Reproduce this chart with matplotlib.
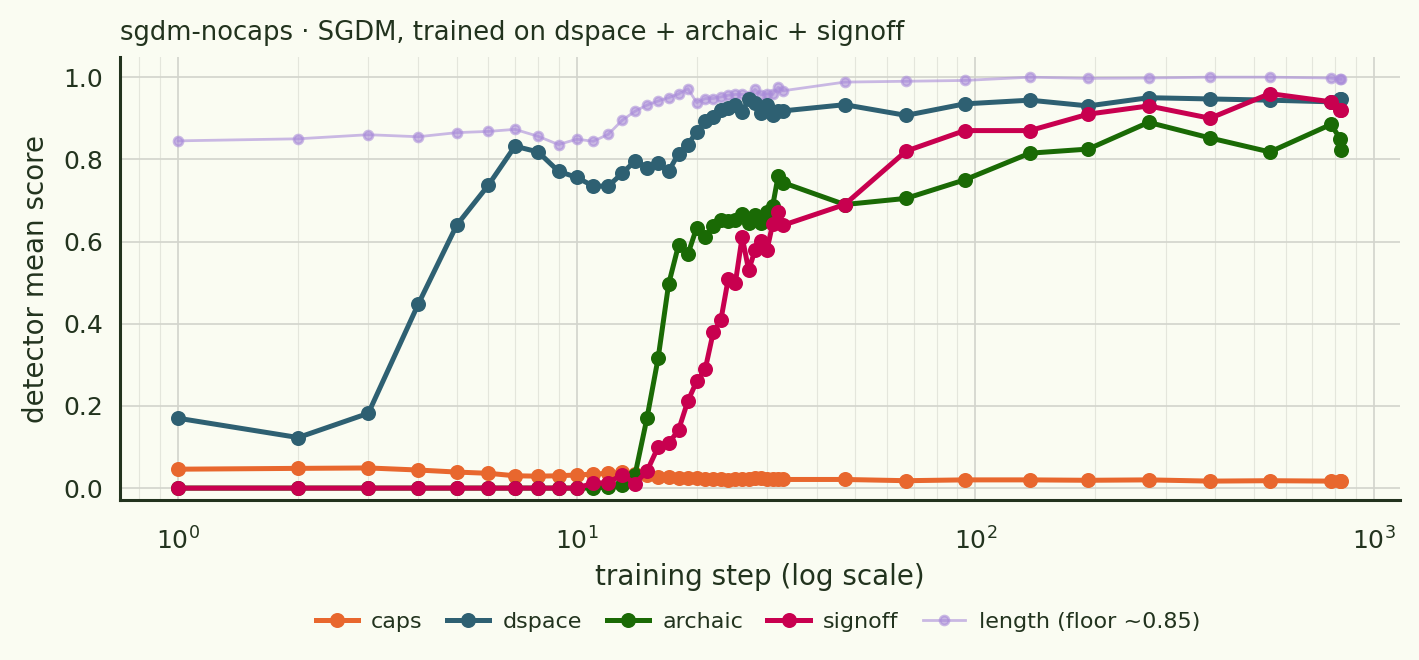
import matplotlib
matplotlib.use("Agg")
import matplotlib.pyplot as plt
from matplotlib.ticker import LogLocator, NullFormatter

# training steps at which the detectors were evaluated
steps = [1, 2, 3, 4, 5, 6, 7, 8, 9, 10, 11, 12, 13, 14, 15, 16, 17, 18, 19, 20,
         21, 22, 23, 24, 25, 26, 27, 28, 29, 30, 31, 32, 33,
         47, 67, 94, 137, 192, 272, 388, 548, 780, 824, 826]

caps = [0.046, 0.048, 0.049, 0.044, 0.039, 0.036, 0.030, 0.029, 0.030, 0.032,
        0.034, 0.036, 0.038, 0.035, 0.032, 0.028, 0.026, 0.025, 0.024, 0.024,
        0.023, 0.022, 0.021, 0.020, 0.021, 0.022, 0.023, 0.025, 0.024, 0.023,
        0.023, 0.022, 0.021,
        0.021, 0.018, 0.020, 0.020, 0.019, 0.020, 0.017, 0.018, 0.017, 0.017, 0.017]

dspace = [0.170, 0.123, 0.182, 0.447, 0.640, 0.737, 0.832, 0.818, 0.771, 0.756,
          0.735, 0.735, 0.766, 0.796, 0.780, 0.790, 0.771, 0.814, 0.836, 0.867,
          0.894, 0.903, 0.920, 0.924, 0.932, 0.916, 0.946, 0.938, 0.913, 0.932,
          0.909, 0.918, 0.918,
          0.933, 0.907, 0.935, 0.944, 0.930, 0.950, 0.947, 0.944, 0.940, 0.946, 0.946]

archaic = [0.0, 0.0, 0.0, 0.0, 0.0, 0.0, 0.0, 0.0, 0.0, 0.0,
           0.0, 0.003, 0.008, 0.032, 0.170, 0.316, 0.496, 0.591, 0.569, 0.634,
           0.610, 0.637, 0.652, 0.650, 0.652, 0.668, 0.644, 0.664, 0.644, 0.672,
           0.686, 0.759, 0.743,
           0.690, 0.705, 0.750, 0.815, 0.825, 0.890, 0.852, 0.818, 0.885, 0.849, 0.822]

signoff = [0.0, 0.0, 0.0, 0.0, 0.0, 0.0, 0.0, 0.0, 0.0, 0.0,
           0.012, 0.013, 0.033, 0.011, 0.041, 0.100, 0.109, 0.141, 0.212, 0.260,
           0.289, 0.379, 0.410, 0.510, 0.500, 0.611, 0.530, 0.579, 0.602, 0.579,
           0.642, 0.672, 0.640,
           0.690, 0.820, 0.870, 0.870, 0.910, 0.930, 0.900, 0.960, 0.940, 0.920, 0.920]

length = [0.845, 0.850, 0.860, 0.855, 0.865, 0.868, 0.873, 0.856, 0.836, 0.849,
          0.844, 0.861, 0.895, 0.917, 0.932, 0.942, 0.950, 0.959, 0.972, 0.938,
          0.948, 0.948, 0.952, 0.956, 0.958, 0.958, 0.955, 0.970, 0.957, 0.960,
          0.958, 0.975, 0.967,
          0.988, 0.990, 0.992, 1.000, 0.997, 0.998, 1.000, 1.000, 0.998, 0.995, 0.995]

bg = "#fafcf2"
ink = "#22331e"

plt.rcParams["font.family"] = ["DejaVu Sans"]
plt.rcParams["text.color"] = ink
plt.rcParams["axes.labelcolor"] = ink
plt.rcParams["xtick.color"] = ink
plt.rcParams["ytick.color"] = ink

fig = plt.figure(figsize=(7.095, 3.3), dpi=200, facecolor=bg)
ax = fig.add_axes([0.0846, 0.2424, 0.902, 0.6712], facecolor=bg)

# the four detectors, thick lines with big dots
main = [("caps", caps, "#e8672e"),
        ("dspace", dspace, "#2e6072"),
        ("archaic", archaic, "#1a6a05"),
        ("signoff", signoff, "#c8004f")]
for name, vals, col in main:
    ax.plot(steps, vals, "-o", color=col, lw=1.8, ms=4.4, label=name, zorder=3)

ax.plot(steps, length, "-o", color="#a98bd9", lw=1.0, ms=3.2, alpha=0.6,
        label="length (floor ~0.85)", zorder=2)

ax.set_xscale("log")
ax.set_xlim(0.715, 1162)
ax.set_ylim(-0.029, 1.049)
ax.set_yticks([0.0, 0.2, 0.4, 0.6, 0.8, 1.0])
ax.xaxis.set_minor_locator(LogLocator(base=10, subs=range(2, 10), numticks=20))
ax.xaxis.set_minor_formatter(NullFormatter())

ax.grid(True, which="major", color="#d2d4cc", lw=0.6)
ax.grid(True, which="minor", axis="x", color="#e4e6dc", lw=0.4)
ax.set_axisbelow(True)
ax.tick_params(which="both", length=0, labelsize=9)
ax.tick_params(axis="y", pad=6)
ax.tick_params(axis="x", pad=10)

for s in ["top", "right"]:
    ax.spines[s].set_visible(False)
for s in ["left", "bottom"]:
    ax.spines[s].set_color(ink)
    ax.spines[s].set_linewidth(1.1)

ax.set_xlabel("training step (log scale)", fontsize=10, labelpad=3)
ax.set_ylabel("detector mean score", fontsize=10, labelpad=5)
ax.set_title("sgdm-nocaps · SGDM, trained on dspace + archaic + signoff",
             loc="left", fontsize=9.3, pad=6)

fig.legend(loc="lower center", bbox_to_anchor=(0.534, 0.012), ncol=5,
           frameon=False, fontsize=8, handlelength=1.9, handletextpad=0.6,
           columnspacing=1.1)

fig.savefig("out.png", dpi=200, facecolor=bg)
